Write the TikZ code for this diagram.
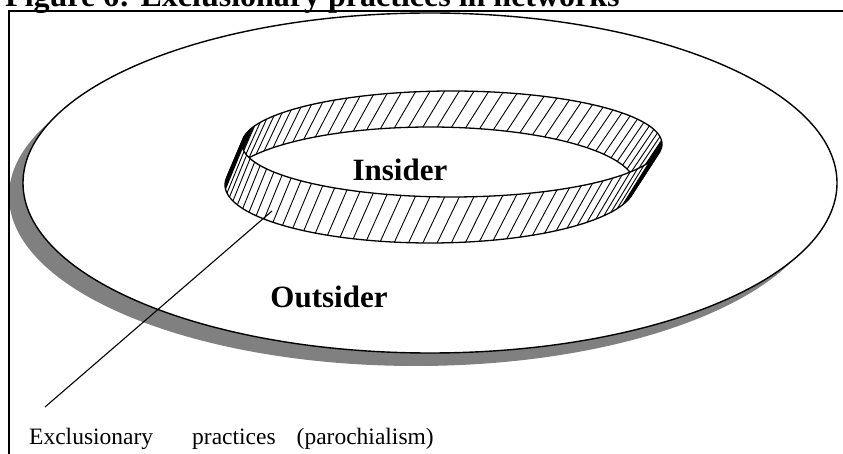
\documentclass[tikz,border=0pt]{standalone}
\usepackage{fontspec}
\setmainfont{Liberation Serif}

\newcommand{\farwall}{plot[domain=188:368, samples=90] ({rx(\x,0)},{ry(\x,0)}) -- plot[domain=368:188, samples=90] ({rx(\x,1)},{ry(\x,1)}) -- cycle}
\newcommand{\nearwall}{plot[domain=8:188, samples=90] ({rx(\x,0)},{ry(\x,0)}) -- plot[domain=188:8, samples=90] ({rx(\x,1)},{ry(\x,1)}) -- cycle}

\begin{document}
\begin{tikzpicture}[x=1pt, y=-1pt,
	declare function={
		rx(\ang,\lev)=452-22*\lev+(210-5*\lev)*cos(\ang);
		ry(\ang,\lev)=144+41*\lev+(53+5*\lev)*sin(\ang);
	},
	rim/.style={line width=1.3pt, line join=round},
	stripe/.style={line width=0.9pt},
	bigword/.style={font=\fontsize{31}{37}\selectfont\bfseries, anchor=base, inner sep=0pt}]
	\clip (0,0) rectangle (843,454);
	
	\coordinate (O) at (430,183);
	\coordinate (S) at (416,196);
	
	\fill[gray] (S) ellipse (407 and 170);
	\draw[line width=1.4pt, fill=white] (O) ellipse (407 and 170);
	
	% far side of the band
	\begin{scope}
		\clip \farwall;
		\fill[white] (0,0) rectangle (843,454);
		\foreach \ang in {188,192,...,368, 189,190,191,193,194,195,197,198,199, 357,358,359,361,362,363,365,366,367}
			\draw[stripe] ({rx(\ang,0)},{ry(\ang,0)}) -- ({rx(\ang,1)},{ry(\ang,1)});
	\end{scope}
	\draw[rim] \farwall;
	
	% near side of the band
	\begin{scope}
		\clip \nearwall;
		\fill[white] (0,0) rectangle (843,454);
		\foreach \ang in {8,12,...,188, 9,10,11,13,14,15,17,18,19, 177,178,179,181,182,183,185,186,187}
			\draw[stripe] ({rx(\ang,0)},{ry(\ang,0)}) -- ({rx(\ang,1)},{ry(\ang,1)});
	\end{scope}
	\draw[rim] \nearwall;
	
	\node[bigword] (insider) at (400,181) {Insider};
	\node[bigword] (outsider) at (329,307) {Outsider};
	
	\node[anchor=base west, inner sep=0pt, font=\fontsize{23.5}{28}\selectfont] (practices) at (29,444) {Exclusionary\hspace{39pt}practices\hspace{21pt}(parochialism)};
	\coordinate (foot) at (45,407);
	\coordinate (tip) at (272,211);
	\draw[line width=1.1pt] (foot) -- (tip);
	
	\node[anchor=base west, inner sep=0pt, font=\fontsize{32}{38}\selectfont\bfseries] (title) at (5,7) {Figure 6: Exclusionary practices in networks};
	\draw[line width=1.5pt] (9,470) -- (9,11) -- (860,11);
\end{tikzpicture}
\end{document}
